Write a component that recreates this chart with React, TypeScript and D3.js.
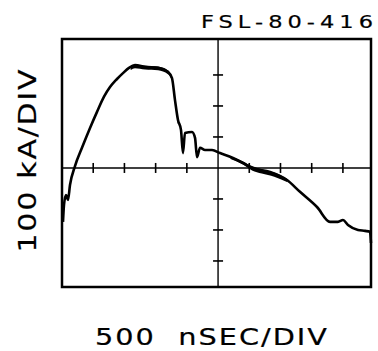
import React from "react";
import * as d3 from "d3";

// time in ns from left edge of graticule, current in kA
const traceTime = [16, 32, 64, 96, 128, 208, 320, 449, 561, 673, 769, 881, 977, 1073, 1169, 1330, 1538, 1698, 1762, 1810, 1858, 1906, 1938, 1970, 2083, 2131, 2163, 2211, 2291, 2403, 2531, 2739, 2900, 3044, 3332, 3604, 3812, 4085, 4293, 4421, 4501, 4581, 4742, 4854, 4934, 4950];
const traceCurrent = [-174, -119, -87, -103, -55, 6, 65, 129, 181, 230, 261, 287, 306, 323, 332, 326, 323, 310, 290, 219, 155, 123, 48, 113, 116, 97, 35, 65, 58, 58, 48, 32, 16, 0, -13, -39, -77, -126, -174, -174, -168, -184, -200, -203, -206, -242];

// thick band portions of the trace (upper / lower envelope)
const bandTime = [1100, 1169, 1330, 1538, 1698, 1762, 1810, 1858];
const bandUpper = [326, 334, 330, 327, 314, 294, 222, 158];
const bandLower = [316, 322, 318, 315, 302, 282, 208, 140];
const band2Time = [2700, 2900, 3044, 3200, 3400, 3604];
const band2Upper = [37, 21, 6, -4, -15, -35];
const band2Lower = [29, 11, -8, -18, -28, -45];

const xTicks = [500, 1000, 1500, 2000, 3000, 3500, 4000, 4500];
const yTicks = [-300, -200, -100, 100, 200, 300];
const centerTime = 2500;

const titleText = "FSL-80-416";
const yLabel = "100 kA/DIV";
const xLabel = "500  nSEC/DIV";

export default function App() {
  const W = 378, H = 351;
  const x = d3.scaleLinear().domain([0, 4950]).range([62, 371]);
  const y = d3.scaleLinear().domain([-384, 416]).range([287, 39]);

  const pts: [number, number][] = traceTime.map((t, i) => [t, traceCurrent[i]]);
  const line = d3.line<[number, number]>().x(d => x(d[0])).y(d => y(d[1])).curve(d3.curveMonotoneX);
  const area = (ts: number[], up: number[], lo: number[]) =>
    d3.area<number>().x((_, i) => x(ts[i])).y0((_, i) => y(lo[i])).y1((_, i) => y(up[i])).curve(d3.curveMonotoneX)(ts.map((_, i) => i)) || "";

  const font = "'DejaVu Sans', sans-serif";
  const x0 = x(0), x1 = x(4950), yT = y(416), yB = y(-384);
  const sx = 1.25;

  return (
    <svg width={W} height={H} style={{ position: "absolute", left: 0, top: 0, background: "#fff" }}>
      <rect x={0} y={0} width={W} height={H} fill="#fff" />
      {/* frame */}
      <rect x={x0} y={yT} width={x1 - x0} height={yB - yT} fill="none" stroke="#000" strokeWidth={2.5} />
      {/* axes */}
      <line x1={x0} x2={x1} y1={y(0)} y2={y(0)} stroke="#000" strokeWidth={1.6} />
      <line x1={x(centerTime)} x2={x(centerTime)} y1={yT} y2={yB} stroke="#000" strokeWidth={1.4} />
      {xTicks.map(t => (
        <line key={"xt" + t} x1={x(t)} x2={x(t)} y1={y(0) - 5} y2={y(0) + 5} stroke="#000" strokeWidth={1.6} />
      ))}
      {yTicks.map(v => (
        <line key={"yt" + v} x1={x(centerTime) - 5} x2={x(centerTime) + 5} y1={y(v)} y2={y(v)} stroke="#000" strokeWidth={1.6} />
      ))}
      {/* trace */}
      <path d={area(bandTime, bandUpper, bandLower)} fill="#000" />
      <path d={area(band2Time, band2Upper, band2Lower)} fill="#000" />
      <path d={line(pts) || ""} fill="none" stroke="#000" strokeWidth={2.6} strokeLinejoin="round" />
      {/* labels */}
      <g transform={`translate(201,28) scale(${sx},1)`}>
        <text x={0} y={0} fontFamily={font} fontSize={18} textLength={172 / sx} lengthAdjust="spacing" fill="#000" stroke="#000" strokeWidth={0.2}>{titleText}</text>
      </g>
      <g transform={`translate(36,161) rotate(-90) scale(${sx},1)`}>
        <text x={0} y={0} textAnchor="middle" fontFamily={font} fontSize={24} textLength={183 / sx} lengthAdjust="spacing" fill="#000" stroke="#000" strokeWidth={0.2}>{yLabel}</text>
      </g>
      <g transform={`translate(95,345) scale(${sx},1)`}>
        <text x={0} y={0} fontFamily={font} fontSize={23} textLength={232 / sx} lengthAdjust="spacing" fill="#000" stroke="#000" strokeWidth={0.2} style={{ whiteSpace: "pre" }}>{xLabel}</text>
      </g>
    </svg>
  );
}
